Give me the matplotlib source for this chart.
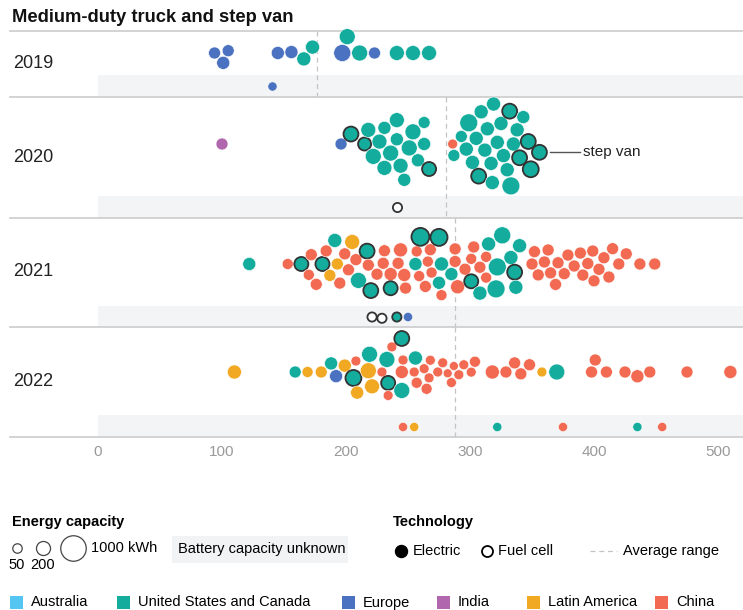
import numpy as np
import matplotlib
matplotlib.use("Agg")
import matplotlib.pyplot as plt

plt.rcParams['font.family'] = ['Liberation Sans', 'DejaVu Sans']

# ---- data: range (km), battery capacity (kWh), region, technology ----
years = ['2019', '2020', '2021', '2022']

range_2019 = [94, 101, 105, 145, 156, 166, 173, 197, 201, 211, 223, 241, 254, 267]
cap_2019 = [120, 160, 120, 160, 160, 200, 200, 350, 290, 290, 120, 240, 240, 240]
region_2019 = ['EU', 'EU', 'EU', 'EU', 'EU', 'US', 'US', 'EU', 'US', 'US', 'EU', 'US', 'US', 'US']
tech_2019 = ['E'] * 14

range_2020 = [100, 196, 204, 215, 218, 222, 227, 231, 231, 236, 241, 241, 244, 247, 251, 254, 258, 263,
              263, 267, 286, 287, 293, 297, 299, 302, 305, 307, 309, 312, 314, 317, 318, 319, 322, 325,
              327, 330, 332, 333, 335, 338, 340, 343, 347, 349, 356]
cap_2020 = [120, 120, 240, 160, 240, 290, 240, 160, 240, 290, 160, 240, 240, 160, 290, 290, 160, 160,
            120, 200, 60, 120, 120, 200, 400, 200, 200, 240, 200, 200, 200, 200, 200, 200, 200, 200,
            200, 200, 240, 400, 200, 200, 240, 160, 240, 290, 240]
region_2020 = ['IN', 'EU'] + ['US'] * 18 + ['CN'] + ['US'] * 26
tech_2020 = ['E', 'E', 'F', 'F', 'E', 'E', 'E', 'E', 'E', 'E', 'E', 'E', 'E', 'E', 'E', 'E', 'E', 'E',
             'E', 'F', 'E', 'E', 'E', 'E', 'E', 'E', 'E', 'F', 'E', 'E', 'E', 'E', 'E', 'E', 'E', 'E',
             'E', 'E', 'F', 'E', 'E', 'E', 'F', 'E', 'F', 'F', 'F']

range_2021 = [122, 153, 164, 170, 172, 176, 181, 184, 187, 191, 193, 195, 199, 202, 205, 208, 210, 217,
              218, 220, 225, 230, 231, 236, 236, 242, 244, 247, 248, 256, 257, 259, 260, 264, 266, 268,
              269, 275, 275, 277, 277, 285, 288, 288, 290, 296, 301, 301, 303, 308, 308, 313, 313, 315,
              321, 322, 326, 333, 336, 337, 340,
              350, 352, 355, 360, 363, 365, 369, 371, 376, 379, 384, 389, 391, 395, 399, 400, 404, 408,
              412, 415, 420, 426, 437, 449]
cap_2021 = [160, 90, 200, 90, 120, 120, 200, 120, 120, 200, 120, 120, 120, 120, 240, 120, 290, 240,
            120, 240, 120, 120, 120, 160, 200, 120, 200, 160, 120, 160, 90, 90, 400, 120, 90, 120,
            90, 350, 160, 200, 90, 160, 120, 120, 200, 120, 90, 200, 120, 120, 200, 90, 90, 200,
            400, 400, 350, 200, 240, 200, 200] + [120] * 24
region_2021 = ['US', 'CN', 'US', 'CN', 'CN', 'CN', 'US', 'CN', 'LA', 'US', 'LA', 'CN', 'CN', 'CN', 'LA',
               'CN', 'US', 'US', 'CN', 'US', 'CN', 'CN', 'CN', 'CN', 'US', 'CN', 'CN', 'CN', 'CN', 'US',
               'CN', 'CN', 'US', 'CN', 'CN', 'CN', 'CN', 'US', 'US', 'US', 'CN', 'US', 'CN', 'CN', 'CN',
               'CN', 'CN', 'US', 'CN', 'CN', 'US', 'CN', 'CN', 'US', 'US', 'US', 'US', 'US', 'US', 'US',
               'US'] + ['CN'] * 24
tech_2021 = ['E', 'E', 'F', 'E', 'E', 'E', 'F', 'E', 'E', 'E', 'E', 'E', 'E', 'E', 'E', 'E', 'E', 'F',
             'E', 'F', 'E', 'E', 'E', 'E', 'F', 'E', 'E', 'E', 'E', 'E', 'E', 'E', 'F', 'E', 'E', 'E',
             'E', 'F', 'E', 'E', 'E', 'E', 'E', 'E', 'E', 'E', 'E', 'F', 'E', 'E', 'E', 'E', 'E', 'E',
             'E', 'E', 'E', 'E', 'F', 'E', 'E'] + ['E'] * 24

range_2022 = [110, 159, 169, 180, 188, 192, 199, 206, 208, 209, 218, 219, 221, 229, 233, 234, 234, 237,
              245, 245, 245, 246, 255, 256, 257, 263, 265, 267, 268, 274, 278, 282, 285, 287, 291, 295,
              301, 304, 318, 329, 336, 341, 348, 358, 370, 398, 401, 410, 425, 435, 445, 475, 510]
cap_2022 = [200, 120, 90, 120, 160, 160, 160, 290, 60, 160, 290, 290, 240, 60, 290, 200, 60, 60,
            160, 290, 240, 60, 60, 200, 90, 60, 90, 60, 60, 60, 60, 40, 60, 40, 60, 60,
            60, 90, 200, 120, 120, 120, 120, 60, 290, 120, 120, 120, 120, 160, 120, 120, 160]
region_2022 = ['LA', 'US', 'LA', 'LA', 'US', 'EU', 'LA', 'US', 'CN', 'LA', 'LA', 'US', 'LA', 'CN', 'US',
               'US', 'CN', 'CN', 'CN', 'US', 'US', 'CN', 'CN', 'US', 'CN', 'CN', 'CN', 'CN', 'CN', 'CN',
               'CN', 'CN', 'CN', 'CN', 'CN', 'CN', 'CN', 'CN', 'CN', 'CN', 'CN', 'CN', 'CN', 'LA', 'US',
               'CN', 'CN', 'CN', 'CN', 'CN', 'CN', 'CN', 'CN']
tech_2022 = ['E'] * 7 + ['F'] + ['E'] * 7 + ['F'] + ['E'] * 4 + ['F'] + ['E'] * 32

# battery capacity unknown
unk_range = {'2019': [140], '2020': [241], '2021': [221, 229, 241, 250],
             '2022': [246, 255, 322, 375, 435, 455]}
unk_region = {'2019': ['EU'], '2020': [''], '2021': ['', '', 'US', 'EU'],
              '2022': ['CN', 'LA', 'US', 'CN', 'US', 'CN']}
unk_tech = {'2019': ['E'], '2020': ['F'], '2021': ['F', 'F', 'F', 'E'],
            '2022': ['E', 'E', 'E', 'E', 'E', 'E']}

avg_range = [177, 281, 288, 288]
ticks = [0, 100, 200, 300, 400, 500]

colors = {'AU': '#55c6f2', 'US': '#14ad9d', 'EU': '#4a72c0', 'IN': '#b067ad',
          'LA': '#f1a823', 'CN': '#f26a52', '': 'white'}
legend_regions = [('AU', 'Australia'), ('US', 'United States and Canada'), ('EU', 'Europe'),
                  ('IN', 'India'), ('LA', 'Latin America'), ('CN', 'China')]

all_range = [range_2019, range_2020, range_2021, range_2022]
all_cap = [cap_2019, cap_2020, cap_2021, cap_2022]
all_region = [region_2019, region_2020, region_2021, region_2022]
all_tech = [tech_2019, tech_2020, tech_2021, tech_2022]

# ---- layout (pixels) ----
W, H = 743, 610
PX_KM = 1.24          # pixels per km
X0 = 98               # pixel of 0 km
swarm_y = [53, 144, 264, 372]
unk_y = [86, 207, 317, 427]
row_top = [31, 97, 218, 327]
band_top = [75, 196, 306, 415]
row_bottom = [97, 218, 327, 437]
label_y = [63, 157, 271, 382]


def radius(cap):
    return 2.4 + 0.327 * np.sqrt(cap)


def beeswarm(xs, rs, pad=0.6):
    # greedy placement in range order: keep x, pick y nearest the centre line without overlap
    xp = np.asarray(xs, float) * PX_KM
    rs = np.asarray(rs, float)
    ys = np.zeros(len(xp))
    order = sorted(range(len(xp)), key=lambda i: xp[i])
    placed = []
    flip = 1
    for i in order:
        cands = [0.0]
        for j in placed:
            d = rs[i] + rs[j] + pad
            dx = xp[i] - xp[j]
            if abs(dx) < d:
                dy = np.sqrt(d * d - dx * dx)
                cands += [ys[j] + dy, ys[j] - dy]
        cands.sort(key=lambda c: (round(abs(c), 3), flip * c))
        for c in cands:
            ok = all((xp[i] - xp[j]) ** 2 + (c - ys[j]) ** 2 >= (rs[i] + rs[j] + pad) ** 2 - 1e-6
                     for j in placed)
            if ok:
                ys[i] = c
                break
        flip = -flip
        placed.append(i)
    return ys


def s_of(r):
    # marker area in points^2 for a radius in pixels (dpi 100)
    return (2 * r * 72 / 100) ** 2


fig = plt.figure(figsize=(W / 100, H / 100), dpi=100)
ax = fig.add_axes([0, 0, 1, 1])
ax.set_xlim(-X0 / PX_KM, (W - X0) / PX_KM)
ax.set_ylim(H, 0)
ax.axis('off')

lax = fig.add_axes([0, 0, 1, 1])
lax.set_xlim(0, W)
lax.set_ylim(H, 0)
lax.axis('off')
lax.patch.set_alpha(0)

xmax = (W - X0) / PX_KM
xleft = (10 - X0) / PX_KM

for k, yr in enumerate(years):
    # grey band for unknown capacity
    ax.fill_between([0, xmax], band_top[k], row_bottom[k], color='#f3f4f6', lw=0, zorder=0)
    ax.plot([xleft, xmax], [row_top[k], row_top[k]], color='#cccccc', lw=1.2, zorder=1)
    ax.plot([avg_range[k]] * 2, [row_top[k], row_bottom[k]], color='#c4c4c4', lw=0.9,
            ls=(0, (4, 3)), zorder=1)
    lax.text(13, label_y[k], yr, fontsize=13, color='#222222', va='center', ha='left')

    xs = np.array(all_range[k], float)
    rs = radius(np.array(all_cap[k], float))
    ys = swarm_y[k] + beeswarm(xs, rs)
    fc = [colors[r] for r in all_region[k]]
    ec = ['#333333' if t == 'F' else 'white' for t in all_tech[k]]
    lw = [1.3 if t == 'F' else 0.4 for t in all_tech[k]]
    ax.scatter(xs, ys, s=s_of(rs), c=fc, edgecolors=ec, linewidths=lw, zorder=3)

    if yr == '2020':
        i = int(np.argmax(xs))
        x_end = xs[i] + (rs[i] + 3) / PX_KM
        ax.plot([x_end, (580 - X0) / PX_KM], [ys[i], ys[i]], color='#555555', lw=1, zorder=2)
        ax.text((583 - X0) / PX_KM, ys[i], 'step van', fontsize=11, va='center', ha='left',
                color='#222222')

    ux = np.array(unk_range[yr], float)
    ur = np.full(len(ux), 4.6)
    uy = unk_y[k] + beeswarm(ux, ur, pad=0.8)
    ufc = [colors[r] for r in unk_region[yr]]
    uec = ['#333333' if t == 'F' else 'white' for t in unk_tech[yr]]
    ulw = [1.3 if t == 'F' else 0.4 for t in unk_tech[yr]]
    ax.scatter(ux, uy, s=s_of(ur), c=ufc, edgecolors=uec, linewidths=ulw, zorder=3)

ax.plot([xleft, xmax], [row_bottom[-1]] * 2, color='#cccccc', lw=1.2, zorder=1)
for t in ticks:
    ax.text(t, 452, str(t), fontsize=11, color='#999999', ha='center', va='center')

# ---- title ----
lax.text(12, 18, 'Medium-duty truck and step van', fontsize=13.2, fontweight='bold',
         va='center', ha='left', color='#111111')

# ---- legends ----
lax.text(12, 522, 'Energy capacity', fontsize=10.5, fontweight='bold', va='center')
for cap, cx, label in [(50, 17, '50'), (200, 43, '200'), (1000, 73, None)]:
    lax.scatter([cx], [548], s=s_of(radius(cap)), facecolors='white', edgecolors='#444444',
                linewidths=0.9, zorder=3)
    if label:
        lax.text(cx, 565, label, fontsize=10.5, ha='center', va='center')
lax.text(91, 548, '1000 kWh', fontsize=10.5, va='center')
lax.add_patch(plt.Rectangle((172, 536), 176, 27, color='#f2f3f5', lw=0))
lax.text(178, 549, 'Battery capacity unknown', fontsize=10.5, va='center')

lax.text(393, 522, 'Technology', fontsize=10.5, fontweight='bold', va='center')
lax.scatter([401], [551], s=s_of(6), c='black', zorder=3)
lax.text(413, 551, 'Electric', fontsize=10.5, va='center')
lax.scatter([487], [551], s=s_of(5.5), facecolors='white', edgecolors='black', linewidths=1.3,
            zorder=3)
lax.text(498, 551, 'Fuel cell', fontsize=10.5, va='center')
lax.plot([590, 617], [551, 551], color='#c4c4c4', lw=0.9, ls=(0, (4, 3)))
lax.text(623, 551, 'Average range', fontsize=10.5, va='center')

leg_x = [10, 117, 342, 437, 527, 655]
for (code, name), lx in zip(legend_regions, leg_x):
    lax.add_patch(plt.Rectangle((lx, 596), 13, 13, color=colors[code], lw=0))
    lax.text(lx + 21, 602.5, name, fontsize=10.5, va='center')

fig.savefig('out.png', dpi=100)
